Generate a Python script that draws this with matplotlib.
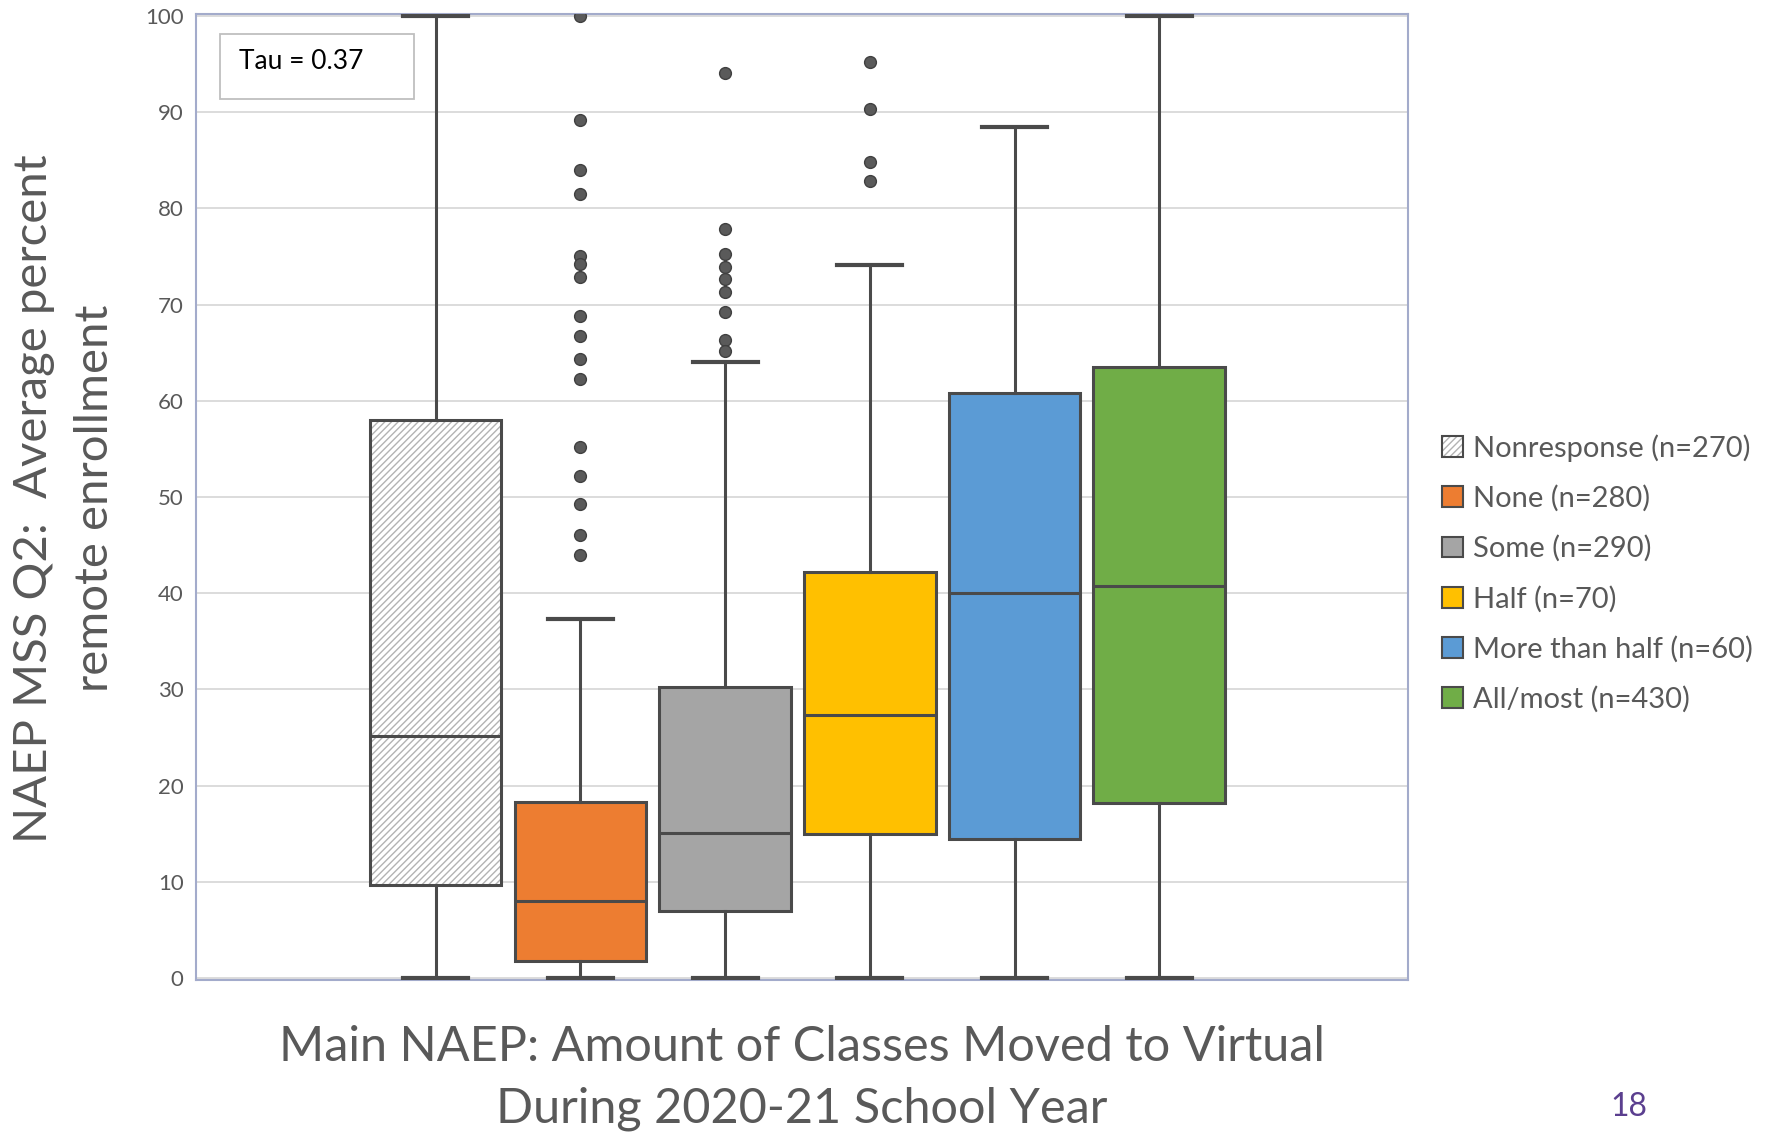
import matplotlib
matplotlib.use("Agg")
import matplotlib.pyplot as plt
from matplotlib.patches import Patch, PathPatch, Rectangle

plt.rcParams['font.family'] = ['Lato', 'DejaVu Sans']
plt.rcParams['hatch.linewidth'] = 1.0

categories = ["Nonresponse (n=270)", "None (n=280)", "Some (n=290)",
              "Half (n=70)", "More than half (n=60)", "All/most (n=430)"]
whisker_low = [0, 0, 0, 0, 0, 0]
q1 = [9.7, 1.8, 7.0, 15.0, 14.4, 18.2]
median = [25.2, 8.0, 15.1, 27.3, 40.0, 40.8]
q3 = [58.0, 18.3, 30.2, 42.2, 60.8, 63.5]
whisker_high = [100, 37.3, 64.0, 74.1, 88.5, 100]
outliers = [
    [],
    [100, 89.2, 84.0, 81.5, 75.1, 74.2, 72.9, 68.8, 66.7, 64.3, 62.3,
     55.2, 52.2, 49.3, 46.0, 44.0],
    [94.1, 77.9, 75.3, 73.9, 72.7, 71.3, 69.2, 66.3, 65.2],
    [95.2, 90.3, 84.8, 82.8],
    [],
    [],
]
colors = ['none', '#ED7D31', '#A5A5A5', '#FFC000', '#5B9BD5', '#70AD47']
yticks = [0, 10, 20, 30, 40, 50, 60, 70, 80, 90, 100]

fig = plt.figure(figsize=(17.71, 11.35), dpi=100)
ax = fig.add_axes([196/1771, 1-980.4/1135, (1408-196)/1771, (980.4-13.6)/1135])

edge = '#4a4a4a'
hatch_col = '#b3b3b3'
stats = []
for i in range(len(categories)):
    stats.append(dict(whislo=whisker_low[i], q1=q1[i], med=median[i], q3=q3[i],
                      whishi=whisker_high[i], fliers=outliers[i]))
positions = list(range(1, len(categories)+1))
bp = ax.bxp(stats, positions=positions, widths=0.91, patch_artist=True,
            showfliers=True, capwidths=0.45,
            boxprops=dict(edgecolor=edge, linewidth=2.2),
            medianprops=dict(color=edge, linewidth=2.2),
            whiskerprops=dict(color=edge, linewidth=2.2),
            capprops=dict(color=edge, linewidth=3),
            flierprops=dict(marker='o', markerfacecolor='#5a5a5a',
                            markeredgecolor='#404040', markersize=8.5, linestyle='none'),
            zorder=3)
for patch, c in zip(bp['boxes'], colors):
    patch.set_facecolor(c)

# hatched fill for the nonresponse box (light hatch under a dark outline)
hp = PathPatch(bp['boxes'][0].get_path(), facecolor='white', edgecolor=hatch_col,
               hatch='/////', linewidth=0, zorder=2.9)
ax.add_patch(hp)

ax.set_xlim(1-1.656, 6+1.719)
ax.set_ylim(-0.25, 100.25)
ax.set_yticks(yticks)
ax.set_yticklabels([str(t) for t in yticks], fontsize=16, color='#595959')
ax.set_xticks([])
ax.tick_params(axis='y', length=0, pad=9)
ax.yaxis.grid(True, color='#d9d9d9', linewidth=1.3, zorder=0)
ax.set_axisbelow(True)
for s in ax.spines.values():
    s.set_color('#a3abcb')
    s.set_linewidth(1.5)

# Tau box
ax.add_patch(Rectangle((0.0196, 0.912), 0.1603, 0.067, transform=ax.transAxes,
                       facecolor='white', edgecolor='#bfbfbf', linewidth=1.3, zorder=5))
ax.text(0.0354, 0.9505, "Tau = 0.37", transform=ax.transAxes, fontsize=19,
        color='black', va='center', ha='left', zorder=6)

fig.text(0.0365, 0.561, "NAEP MSS Q2:  Average percent\nremote enrollment",
         rotation=90, ha='center', va='center', fontsize=34, color='#595959',
         linespacing=1.55)
fig.text(802/1771, 1-1078/1135, "Main NAEP: Amount of Classes Moved to Virtual\nDuring 2020-21 School Year",
         ha='center', va='center', fontsize=35, color='#595959', linespacing=1.5)

handles = []
for i, (lab, c) in enumerate(zip(categories, colors)):
    if i == 0:
        h = (Patch(facecolor='white', edgecolor=hatch_col, hatch='/////', linewidth=0),
             Patch(facecolor='none', edgecolor=edge, linewidth=1.5))
    else:
        h = Patch(facecolor=c, edgecolor=edge, linewidth=1.5)
    handles.append(h)
fig.legend(handles=handles, labels=categories, loc='center left',
           bbox_to_anchor=(1416/1771, 1-573.5/1135), frameon=False,
           fontsize=21, handlelength=0.72, handleheight=0.72,
           handletextpad=0.32, labelspacing=0.8, labelcolor='#595959')

fig.text(1629/1771, 1-1107/1135, "18", ha='center', va='center', fontsize=23,
         color='#5b3f8f')

fig.savefig("out.png", dpi=100)
